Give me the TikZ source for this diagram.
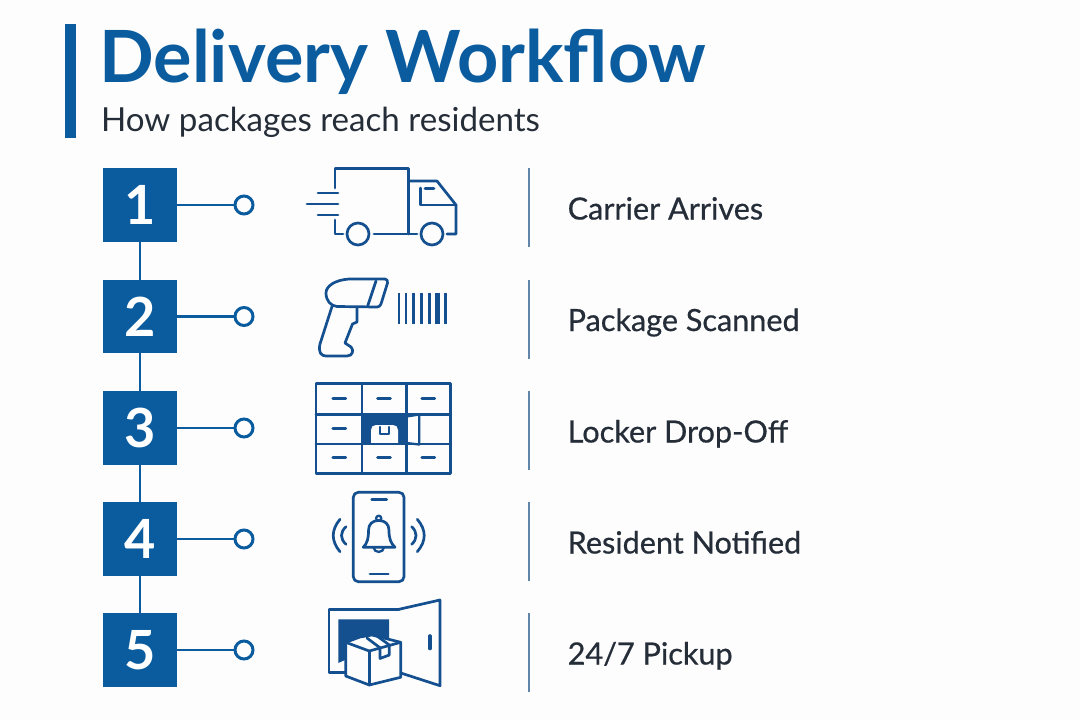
\documentclass[tikz,border=0pt]{standalone}
\usepackage{fontspec}
\setmainfont{Lato}
\newfontfamily\labelfont{Lato}[FakeBold=0.6]
\definecolor{brand}{HTML}{0B5C9F}
\definecolor{iconblue}{HTML}{144F8F}
\definecolor{inktext}{HTML}{252D38}
\definecolor{sep}{HTML}{5F86A8}
\definecolor{paper}{HTML}{FDFDFD}
\tikzset{
  numbox/.style={draw=none,fill=brand,minimum width=73.5pt,minimum height=73.5pt,inner sep=0pt,text=white,font=\fontsize{54}{54}\selectfont\bfseries},
  dot/.style={circle,draw=brand,line width=3pt,fill=paper,minimum size=18pt,inner sep=0pt},
  link/.style={draw=brand,line width=2.6pt},
  steplabel/.style={anchor=base west,inner sep=0pt,text=inktext,font=\labelfont\fontsize{30.6}{30.6}\selectfont},
  sepline/.style={draw=sep,line width=1.6pt},
  icon/.style={draw=iconblue,line width=2.7pt,line join=round,line cap=round},
  thinicon/.style={icon,line width=2.3pt},
}
\begin{document}
\begin{tikzpicture}[x=1pt,y=-1pt]
\useasboundingbox (0,0) rectangle (1080,720);
\fill[paper] (0,0) rectangle (1080,720);
\fill[brand] (65,24) rectangle (75.5,138);
\node[anchor=base west,inner sep=0pt,text=brand,font=\fontsize{72}{72}\selectfont\bfseries] (title) at (99,82) {Delivery Workflow};
\node[anchor=base west,inner sep=0pt,text=inktext,font=\fontsize{33.1}{33.1}\selectfont] (subtitle) at (101,131) {How packages reach residents};
% steps
\foreach \n/\y/\t in {1/205/{Carrier Arrives},2/316.5/{Package Scanned},3/428/{Locker Drop-Off},4/539/{Resident Notified},5/650/{24/7 Pickup}}{
  \node[numbox] (b\n) at (140,\y) {\n};
  \node[dot] (d\n) at (244,\y) {};
  \draw[link] (b\n) -- (d\n);
  \coordinate (st\n) at (529,\y-37);
  \coordinate (sb\n) at (529,\y+42);
  \draw[sepline] (st\n) -- (sb\n);
  \node[steplabel] (l\n) at (567.5,\y+14.5) {\t};
}
\draw[link] (b1) -- (b2);
\draw[link] (b2) -- (b3);
\draw[link] (b3) -- (b4);
\draw[link] (b4) -- (b5);
% truck
\draw[icon] (335,188) -- (335,168.5) -- (408.5,168.5) -- (408.5,234);
\draw[icon] (335,220) -- (335,234) -- (343,234);
\draw[icon] (358,234) circle (11);
\draw[icon] (432,234) circle (11);
\draw[icon] (374,234) -- (417,234);
\draw[icon] (447,234) -- (456,234) -- (456,205) -- (437,181) -- (408.5,181);
\draw[icon] (420.5,188) -- (420.5,205) -- (456,205);
\draw[icon] (425,188.5) -- (434,188.5);
\draw[icon] (318,193) -- (338,193);
\draw[icon] (307,204) -- (338,204);
\draw[icon] (318,215) -- (338,215);
% scanner
\draw[icon] (385,279) -- (349,279) .. controls (335,280) and (326,286) .. (326,293) .. controls (326,301) and (331,306) .. (337,306.5) -- (377,307) .. controls (379,307) and (380,306) .. (381,304) -- (387.5,283) .. controls (388,281) and (387,279) .. (385,279) -- cycle;
\draw[icon] (376,281) -- (367.5,306.5);
\draw[icon] (332,306.5) -- (320,344) .. controls (318,352) and (321,356) .. (326,356) -- (347,356) .. controls (353,356) and (354,350) .. (351,347) -- (345,343) -- (352.5,324) -- (357,322) -- (357,308);
\foreach \x/\w in {399/2.6,406/2.6,413.5/2.6,421.7/2.6,429.3/2.8,437.3/5.4,445.3/2.6}{
  \draw[draw=iconblue,line width=\w pt] (\x,293.3) -- (\x,324);
}
% locker
\fill[iconblue] (362,414.3) rectangle (406.3,444);
\fill[paper] (371,444) -- (371,430) .. controls (371,427) and (373,425) .. (376,425) -- (393,425) .. controls (396,425) and (398,427) .. (398,430) -- (398,444) -- cycle;
\draw[icon] (316,383.3) rectangle (450.7,473.3);
\draw[icon] (316,414.3) -- (450.7,414.3);
\draw[icon] (316,444) -- (450.7,444);
\draw[icon] (362,383.3) -- (362,473.3);
\draw[icon] (406.3,383.3) -- (406.3,473.3);
\foreach \x/\y in {339.3/398.7,384/398.7,428.3/398.7,339.3/428.3,339.3/457.7,384/457.7,428.3/457.7}{
  \draw[icon] (\x-6.5,\y) -- (\x+6.5,\y);
}
\draw[thinicon] (380,427) -- (380,434) -- (389,434) -- (389,427);
\draw[thinicon] (406.3,416.5) -- (419.3,414.5) -- (419.3,444.5) -- (406.3,443);
% phone
\draw[icon,rounded corners=5pt] (353.3,492.3) rectangle (404,581.7);
\draw[icon] (371.7,499.3) -- (386.7,499.3);
\draw[icon] (370,574) -- (388.3,574);
\draw[thinicon] (378.7,518.3) circle (2.6);
\draw[icon] (363.3,547.3) .. controls (367.5,543) and (368.5,538) .. (368.5,530.5) .. controls (368.5,524) and (372.5,520.5) .. (378.7,520.5) .. controls (385,520.5) and (389,524) .. (389,530.5) .. controls (389,538) and (390.5,543) .. (395,547.3) -- cycle;
\draw[thinicon] (373.5,547.3) .. controls (374,553.5) and (383.5,553.5) .. (384,547.3);
\draw[icon] (340,519.3) .. controls (331,530) and (331,541) .. (340,551.7);
\draw[icon] (346,526.7) .. controls (340,532) and (340,539) .. (346,544.3);
\draw[icon] (417.3,519.3) .. controls (426.5,530) and (426.5,541) .. (417.3,551.7);
\draw[icon] (411.7,526.7) .. controls (417.5,532) and (417.5,539) .. (411.7,544.3);
% pickup
\fill[iconblue] (338.3,619.3) -- (389,619.3) -- (389,640) -- (338.3,663) -- cycle;
\draw[icon] (399,609.3) -- (329,609.3) -- (329,672.3) -- (345,672.3);
\draw[icon] (399,609.3) -- (440,600) -- (440,685.7) -- (401.7,673.3);
\draw[draw=iconblue,line width=3.6pt,line cap=round] (430,636) -- (430,648.5);
\filldraw[icon,fill=paper] (345.7,642.3) -- (360,637) -- (372,635) -- (400.7,642.3) -- (400.7,677.3) -- (369.3,685) -- (345.7,676) -- cycle;
\draw[icon] (345.7,642.3) -- (369.3,651) -- (400.7,642.3);
\draw[icon] (369.3,651) -- (369.3,685);
\draw[icon] (367,638) -- (380,647.8) -- (380,658.5) -- (389.3,655) -- (389.3,645) -- (377,636);
\end{tikzpicture}
\end{document}
